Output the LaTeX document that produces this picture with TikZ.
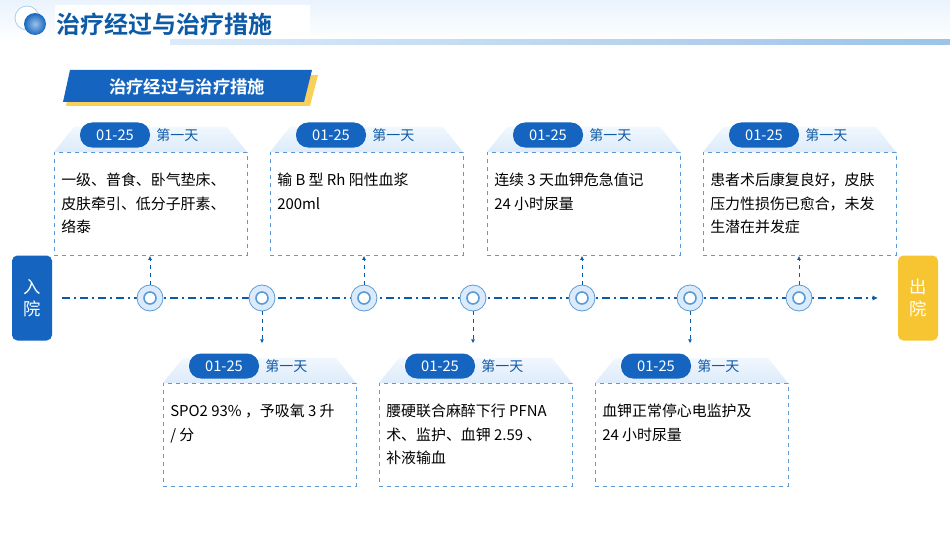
\documentclass[tikz,border=0pt]{standalone}
\usepackage{fontspec}
\setmainfont{Noto Sans CJK SC}
\newfontfamily\cjkb{Noto Sans CJK SC Bold}
\usetikzlibrary{arrows.meta}
\definecolor{mblue}{HTML}{1565C0}
\definecolor{dblue}{HTML}{0D5AA7}
\definecolor{lblue}{HTML}{5B9BD5}
\definecolor{pale}{HTML}{DCEBFB}
\definecolor{gold}{HTML}{F7C531}
\begin{document}
\begin{tikzpicture}[x=0.75pt,y=-0.75pt,
 box/.style={draw=lblue,dashed,line width=0.6pt,minimum width=193*0.75pt,minimum height=103*0.75pt,anchor=north west,inner sep=0},
 txt/.style={anchor=north west,align=left,font=\fontsize{11.2}{17.5}\selectfont,inner sep=0},
 pill/.style={fill=mblue,rounded corners=9pt,minimum width=70*0.75pt,minimum height=25*0.75pt,text=white,font=\fontsize{11}{12}\selectfont,inner sep=0},
 day/.style={text=dblue,font=\fontsize{10.5}{12}\selectfont,anchor=west,inner sep=0},
 ring/.style={circle,draw=lblue,fill=pale,line width=0.6pt,minimum size=26*0.75pt,inner sep=0},
 conn/.style={draw=dblue,dashed,line width=0.7pt,-{Latex[length=3pt,width=3pt]}},
 side/.style={rounded corners=4pt,minimum width=40*0.75pt,minimum height=85*0.75pt,text=white,align=center,font=\fontsize{13}{17}\selectfont,inner sep=0}]
\useasboundingbox (0,0) rectangle (950,535);
\fill[white] (0,0) rectangle (950,535);
% header band
\shade[top color=pale!60,bottom color=white] (0,0) rectangle (950,42);
\fill[white] (55,5) rectangle (310,40);
\shade[left color=pale,right color=lblue!60] (170,40) rectangle (950,45);
\draw[lblue!50,line width=0.6pt,fill=white] (27,18) circle (12);
\shade[inner color=lblue!60,outer color=mblue] (35,24) circle (11);
\node[anchor=west,text=dblue,font=\cjkb\fontsize{18}{20}\selectfont,inner sep=0] (title) at (56,24) {治疗经过与治疗措施};
% subtitle banner
\fill[gold!80] (72,75) -- (318,75) -- (310,106) -- (66,106) -- cycle;
\fill[mblue] (70,70) -- (312,70) -- (304,102) -- (63,102) -- cycle;
\node[text=white,font=\cjkb\fontsize{13}{15}\selectfont] (sub) at (187,87) {治疗经过与治疗措施};
% timeline
\node[side,fill=mblue] (in) at (32,298) {入\\院};
\node[side,fill=gold] (out) at (918,298) {出\\院};
\coordinate (ls) at (62,298);
\coordinate (le) at (878,298);
\draw[dblue,line width=0.8pt,dash pattern=on 6pt off 3pt on 1.5pt off 3pt,-{Latex[length=4pt,width=4pt]}] (ls) -- (le);
\foreach \n/\x in {1/150,2/262,3/364,4/473,5/582,6/690,7/799}{
 \node[ring] (c\n) at (\x,298) {};
 \draw[lblue,line width=1.2pt,fill=white] (\x,298) circle (6);
}
% top cards
\foreach \n/\x/\c/\t in {1/54/1/{一级、普食、卧气垫床、\\皮肤牵引、低分子肝素、\\络泰},2/270/3/{输 B 型 Rh 阳性血浆\\200ml},3/487/5/{连续 3 天血钾危急值记\\24 小时尿量},4/703/7/{患者术后康复良好，皮肤\\压力性损伤已愈合，未发\\生潜在并发症}}{
 \shade[top color=pale!40,bottom color=pale] (\x+20,127) -- (\x+173,127) -- (\x+193,152) -- (\x,152) -- cycle;
 \node[box] (t\n) at (\x,152) {};
 \node[txt] at (\x+7,173) {\t};
 \node[pill] (tp\n) at (\x+61,135) {01-25};
 \node[day] at (\x+102,135) {第一天};
 \draw[conn] (c\c.north) -- (t\n.south -| c\c);
}
% bottom cards
\foreach \n/\x/\c/\t in {1/163/2/{SPO2 93\% ，予吸氧 3 升\\/ 分},2/379/4/{腰硬联合麻醉下行 PFNA\\术、监护、血钾 2.59 、\\补液输血},3/595/6/{血钾正常停心电监护及\\24 小时尿量}}{
 \shade[top color=pale!40,bottom color=pale] (\x+20,358) -- (\x+173,358) -- (\x+193,383) -- (\x,383) -- cycle;
 \node[box] (b\n) at (\x,383) {};
 \node[txt] at (\x+7,404) {\t};
 \node[pill] (bp\n) at (\x+61,366) {01-25};
 \node[day] at (\x+102,366) {第一天};
 \path (c\c.south) ++(0,32) coordinate (e\n);
 \draw[conn] (c\c.south) -- (e\n);
}
\end{tikzpicture}
\end{document}
